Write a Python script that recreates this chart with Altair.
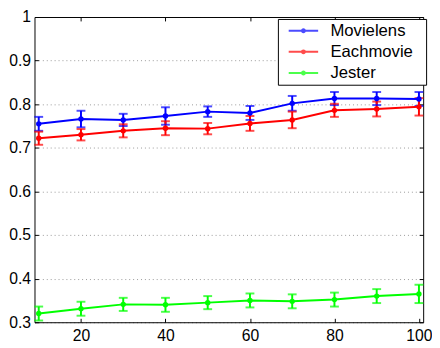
import altair as alt
import pandas as pd

# ---- data ----
xs = [10, 20, 30, 40, 50, 60, 70, 80, 90, 100]
series_names = ["Movielens", "Eachmovie", "Jester"]
movielens = [0.755, 0.766, 0.764, 0.773, 0.783, 0.780, 0.802, 0.813, 0.813, 0.812]
movielens_err = [0.016, 0.019, 0.014, 0.020, 0.012, 0.016, 0.017, 0.015, 0.015, 0.016]
eachmovie = [0.722, 0.730, 0.739, 0.745, 0.744, 0.756, 0.764, 0.786, 0.789, 0.794]
eachmovie_err = [0.015, 0.013, 0.015, 0.016, 0.013, 0.017, 0.019, 0.015, 0.017, 0.020]
jester = [0.320, 0.331, 0.341, 0.340, 0.345, 0.350, 0.348, 0.352, 0.360, 0.365]
jester_err = [0.016, 0.016, 0.015, 0.016, 0.015, 0.016, 0.016, 0.016, 0.016, 0.021]
colors = ["#0000ff", "#ff0000", "#00ff00"]
x_ticks = [20, 40, 60, 80, 100]
y_ticks = [0.3, 0.4, 0.5, 0.6, 0.7, 0.8, 0.9, 1.0]

rows = []
for name, vals, errs in [("Movielens", movielens, movielens_err),
                         ("Eachmovie", eachmovie, eachmovie_err),
                         ("Jester", jester, jester_err)]:
    for x, v, e in zip(xs, vals, errs):
        rows.append({"series": name, "x": x, "y": v, "lo": v - e, "hi": v + e})
df = pd.DataFrame(rows)

W, H = 396, 311
FONT = "Liberation Sans"
xscale = alt.Scale(domain=[9, 101], nice=False, zero=False)
yscale = alt.Scale(domain=[0.3, 1.0], nice=False, zero=False)

xaxis_main = alt.Axis(values=x_ticks, tickSize=0, grid=False, title=None, domainColor="black",
                      domainWidth=1, labelFont=FONT, labelFontSize=16, labelColor="black",
                      labelPadding=6, labelFlush=False)
yaxis_main = alt.Axis(values=y_ticks, tickSize=0, grid=True, gridColor="#999999",
                      gridDash=[1, 3], gridWidth=1, title=None, domainColor="black",
                      domainWidth=1, labelFont=FONT, labelFontSize=16, labelColor="black",
                      labelPadding=4, labelFlush=False,
                      labelExpr="datum.value == 1 ? '1' : format(datum.value, '.1f')")

# figure space + zero-width space keeps a little room after the labels (not trimmed)
color = alt.Color("series:N", scale=alt.Scale(domain=series_names, range=colors),
                  sort=series_names,
                  legend=alt.Legend(title=None, orient="none", legendX=248, legendY=2,
                                    labelExpr="datum.label + '\u2007\u200b'"))

base = alt.Chart(df)
X = alt.X("x:Q", scale=xscale, axis=xaxis_main)

lines = base.mark_line(strokeWidth=2).encode(x=X, y=alt.Y("y:Q", scale=yscale, axis=yaxis_main), color=color)
points = base.mark_point(filled=True, size=30, opacity=1).encode(
    x=X, y=alt.Y("y:Q", scale=yscale, axis=yaxis_main), color=color)
bars = base.mark_rule(strokeWidth=2).encode(
    x=X, y=alt.Y("lo:Q", scale=yscale, axis=yaxis_main), y2="hi:Q", color=color)
cap_lo = base.mark_tick(orient="horizontal", size=9, thickness=2).encode(
    x=X, y=alt.Y("lo:Q", scale=yscale, axis=yaxis_main), color=color)
cap_hi = base.mark_tick(orient="horizontal", size=9, thickness=2).encode(
    x=X, y=alt.Y("hi:Q", scale=yscale, axis=yaxis_main), color=color)

data_layer = alt.layer(bars, cap_lo, cap_hi, lines, points)

tick_common = dict(labels=False, grid=False, title=None, tickSize=4, tickColor="black", tickWidth=1)
# inward ticks on bottom and left edges
frame1 = base.mark_point(opacity=0).encode(
    x=alt.X("x:Q", scale=xscale, axis=alt.Axis(orient="top", offset=-H, domain=False, values=x_ticks, **tick_common)),
    y=alt.Y("y:Q", scale=yscale, axis=alt.Axis(orient="right", offset=-W, domain=False, values=y_ticks, **tick_common)),
)
# top and right borders with inward ticks
frame2 = base.mark_point(opacity=0).encode(
    x=alt.X("x:Q", scale=xscale, axis=alt.Axis(orient="bottom", offset=-H, domain=True, domainColor="black", values=x_ticks, **tick_common)),
    y=alt.Y("y:Q", scale=yscale, axis=alt.Axis(orient="left", offset=-W, domain=True, domainColor="black", values=y_ticks, **tick_common)),
)

chart = alt.layer(data_layer, frame1, frame2).resolve_scale(
    x="independent", y="independent"
).properties(
    width=W, height=H,
    autosize=alt.AutoSizeParams(type="none"),
    padding={"left": 27, "top": 6, "right": 9, "bottom": 20},
).configure_view(stroke=None).configure_legend(
    strokeColor="black", fillColor="white", padding=3.5, cornerRadius=0,
    symbolType="M-2,0H2M-0.2,0A0.2,0.2,0,1,1,0.2,0A0.2,0.2,0,1,1,-0.2,0",
    symbolSize=225, symbolStrokeWidth=2, symbolOffset=14, labelOffset=19,
    labelFont=FONT, labelFontSize=17, labelColor="black", rowPadding=3.5,
)

chart.save("out.html", embed_options={"renderer": "svg", "actions": False})
